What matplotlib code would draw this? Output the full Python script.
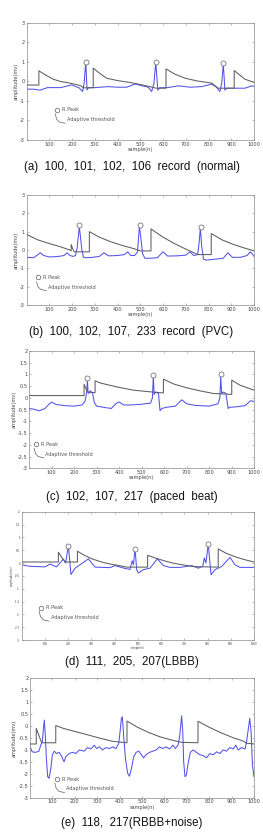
import matplotlib
matplotlib.use("Agg")
import matplotlib.pyplot as plt

# ---------------- data ----------------
# (a) normal
a_thr_x = [0, 54, 54, 80, 117, 150, 191, 235, 250, 293, 293, 320, 352, 400, 455, 491, 530, 570, 613, 613, 650, 697, 750, 814, 842, 913, 913, 960, 997, 1000]
a_thr_y = [-0.19, -0.19, 0.54, 0.35, 0.11, -0.01, -0.09, -0.21, -0.33, -0.33, 0.68, 0.42, 0.16, 0.04, -0.06, -0.14, -0.24, -0.35, -0.35, 0.64, 0.38, 0.16, 0.02, -0.09, -0.35, -0.35, 0.55, 0.11, -0.04, -0.05]
a_sig_x = [0, 30, 59, 92, 150, 198, 232, 246, 253, 260, 266, 272, 300, 359, 400, 440, 477, 500, 535, 550, 560, 568, 577, 585, 620, 667, 720, 770, 814, 835, 850, 858, 865, 872, 880, 920, 960, 990, 1000]
a_sig_y = [-0.4, -0.4, -0.45, -0.32, -0.32, -0.18, -0.34, -0.52, -0.1, 0.98, -0.44, -0.32, -0.32, -0.27, -0.3, -0.3, -0.14, -0.2, -0.3, -0.52, -0.1, 0.98, -0.45, -0.33, -0.32, -0.23, -0.3, -0.27, -0.14, -0.3, -0.52, -0.1, 0.9, -0.45, -0.35, -0.35, -0.35, -0.23, -0.25]
a_pk_x = [260, 568, 865]
a_pk_y = [1.0, 1.0, 0.92]

# (b) PVC
b_thr_x = [0, 50, 100, 150, 190, 196, 196, 203, 210, 276, 276, 320, 370, 420, 470, 500, 547, 547, 600, 650, 700, 753, 812, 812, 860, 910, 960, 1000]
b_thr_y = [0.85, 0.55, 0.35, 0.17, 0.0, -0.05, 0.3, 0.05, -0.1, -0.1, 1.0, 0.7, 0.45, 0.25, 0.08, -0.05, -0.05, 1.15, 0.7, 0.35, 0.05, -0.25, -0.25, 0.9, 0.55, 0.3, 0.1, -0.05]
b_sig_x = [0, 30, 45, 60, 75, 100, 140, 165, 178, 190, 205, 215, 222, 228, 232, 237, 243, 250, 262, 290, 320, 340, 360, 400, 430, 445, 458, 475, 488, 496, 503, 510, 520, 545, 575, 600, 620, 660, 700, 718, 735, 752, 758, 764, 770, 778, 790, 830, 865, 885, 905, 940, 970, 983, 995, 1000]
b_sig_y = [-0.4, -0.42, -0.3, -0.15, -0.3, -0.38, -0.35, -0.3, -0.15, -0.3, -0.35, -0.3, 0.1, 0.8, 1.25, 0.7, 0.0, -0.4, -0.42, -0.4, -0.35, -0.15, -0.32, -0.3, -0.25, -0.1, -0.3, -0.3, -0.1, 1.3, 0.6, -0.2, -0.45, -0.45, -0.42, -0.1, -0.33, -0.32, -0.28, -0.1, -0.3, -0.25, 0.3, 1.2, 0.2, -0.5, -0.55, -0.5, -0.45, -0.15, -0.4, -0.4, -0.3, -0.1, -0.25, -0.35]
b_pk_x = [232, 498, 765]
b_pk_y = [1.35, 1.35, 1.25]

# (c) paced beat
c_thr_x = [0, 244, 244, 252, 262, 293, 293, 315, 389, 464, 538, 597, 597, 641, 701, 760, 819, 901, 901, 938, 1000]
c_thr_y = [0.1, 0.1, 0.58, 0.4, 0.25, 0.22, 0.73, 0.64, 0.47, 0.33, 0.26, 0.21, 0.8, 0.6, 0.43, 0.3, 0.19, 0.15, 0.76, 0.54, 0.33]
c_sig_x = [0, 20, 45, 70, 90, 100, 120, 160, 200, 235, 248, 255, 259, 262, 266, 272, 282, 290, 300, 330, 365, 385, 400, 420, 450, 500, 540, 548, 552, 556, 562, 575, 582, 590, 610, 650, 679, 700, 740, 800, 840, 848, 852, 856, 862, 875, 885, 892, 920, 960, 985, 1000]
c_sig_y = [-0.45, -0.48, -0.55, -0.45, -0.25, -0.18, -0.28, -0.33, -0.35, -0.3, -0.15, 0.2, 0.75, 0.2, 0.2, 0.3, 0.2, -0.2, -0.35, -0.4, -0.45, -0.25, -0.17, -0.3, -0.3, -0.27, -0.22, 0.0, 0.9, 0.15, 0.25, 0.2, -0.55, -0.45, -0.4, -0.35, -0.08, -0.25, -0.32, -0.35, -0.25, 0.0, 0.9, 0.2, 0.25, 0.2, -0.45, -0.4, -0.38, -0.33, -0.12, -0.15]
c_pk_x = [259, 552, 852]
c_pk_y = [0.86, 0.97, 1.02]

# (d) LBBB
d_thr_x = [0, 158, 158, 170, 187, 240, 240, 270, 300, 340, 380, 420, 452, 542, 542, 580, 620, 660, 700, 739, 846, 846, 880, 920, 960, 1000]
d_thr_y = [0.04, 0.04, 0.42, 0.25, 0.04, 0.04, 0.46, 0.3, 0.17, 0.05, -0.04, -0.1, -0.16, -0.16, 0.3, 0.18, 0.07, -0.02, -0.08, -0.14, -0.16, 0.55, 0.38, 0.24, 0.13, 0.04]
d_sig_x = [0, 36, 100, 122, 150, 179, 189, 201, 212, 230, 287, 316, 380, 402, 440, 466, 476, 481, 488, 495, 502, 524, 552, 584, 610, 638, 681, 732, 760, 779, 786, 793, 803, 815, 832, 861, 897, 918, 940, 1000]
d_sig_y = [-0.07, -0.13, -0.15, -0.04, -0.15, 0.15, 0.0, 0.68, -0.45, -0.2, 0.16, -0.16, -0.18, -0.1, -0.2, -0.25, 0.09, -0.07, 0.55, -0.26, -0.39, -0.26, -0.2, 0.16, -0.1, -0.17, -0.17, -0.1, -0.2, -0.13, 0.2, 0.0, 0.74, -0.46, -0.26, -0.13, 0.22, -0.07, -0.17, -0.17]
d_pk_x = [201, 488, 803]
d_pk_y = [0.68, 0.55, 0.74]

# (e) RBBB + noise
e_thr_x = [0, 28, 28, 52, 115, 115, 150, 190, 235, 309, 369, 433, 433, 480, 530, 580, 630, 676, 750, 750, 800, 850, 907, 950, 967, 1000]
e_thr_y = [-0.75, -0.75, -0.1, -0.7, -0.7, 0.02, -0.1, -0.2, -0.31, -0.5, -0.64, -0.7, 0.21, -0.05, -0.27, -0.45, -0.58, -0.68, -0.7, 0.2, -0.05, -0.27, -0.49, -0.62, -0.72, -0.75]
e_sig_x = [0, 10, 25, 40, 48, 55, 60, 64, 69, 73, 79, 85, 93, 100, 108, 118, 130, 142, 152, 160, 175, 190, 205, 220, 242, 257, 272, 287, 297, 309, 324, 339, 354, 369, 384, 396, 402, 408, 412, 418, 426, 436, 444, 453, 463, 474, 486, 496, 507, 519, 534, 549, 563, 578, 593, 608, 623, 638, 649, 661, 668, 673, 677, 682, 686, 692, 698, 707, 716, 728, 743, 758, 773, 788, 803, 818, 833, 848, 862, 877, 892, 907, 919, 929, 945, 960, 967, 975, 981, 987, 993, 1000]
e_sig_y = [-0.87, -1.08, -1.1, -1.05, -0.8, -0.65, -0.1, 0.25, -0.5, -1.35, -2.12, -2.19, -1.77, -1.2, -1.05, -1.15, -1.1, -1.28, -1.5, -1.28, -1.15, -1.1, -1.15, -1.0, -1.05, -0.9, -0.96, -0.8, -0.94, -0.87, -1.0, -0.9, -0.94, -0.87, -0.94, -0.73, -0.24, 0.32, 0.39, -0.38, -1.35, -1.98, -2.1, -1.77, -1.28, -1.1, -1.05, -1.19, -1.33, -1.19, -1.1, -1.05, -1.0, -0.87, -0.94, -0.87, -0.96, -0.8, -0.94, -0.8, -0.45, 0.04, 0.43, -0.24, -1.5, -2.12, -2.05, -1.5, -1.1, -1.0, -1.1, -1.2, -1.24, -1.33, -1.15, -1.2, -1.08, -1.15, -1.0, -1.05, -0.9, -0.96, -0.8, -1.0, -0.9, -0.96, -0.65, -0.1, 0.32, -0.24, -1.63, -2.12]
e_pk_x = []
e_pk_y = []

captions = [
    "(a)  100,  101,  102,  106  record  (normal)",
    "(b)  100,  102,  107,  233  record  (PVC)",
    "(c)  102,  107,  217  (paced  beat)",
    "(d)  111,  205,  207(LBBB)",
    "(e)  118,  217(RBBB+noise)",
]
x_ticks = [100, 200, 300, 400, 500, 600, 700, 800, 900, 1000]
y_ticks_int = [-3, -2, -1, 0, 1, 2, 3]
y_ticks_half = [-3, -2.5, -2, -1.5, -1, -0.5, 0, 0.5, 1, 1.5, 2]
legend_labels = ["R Peak", "Adaptive threshold"]

# ---------------- layout ----------------
W, H = 263, 834
fig = plt.figure(figsize=(W / 100, H / 100), dpi=100)

def rect(l, t, r, b):
    return [l / W, 1 - b / H, (r - l) / W, (b - t) / H]

panels = [
    dict(rect=rect(26.6, 22.7, 254, 140), thr=(a_thr_x, a_thr_y), sig=(a_sig_x, a_sig_y), pk=(a_pk_x, a_pk_y),
         ylim=(-3, 3), yt=y_ticks_int, cap_y=167, leg=(0.134, 0.256, 0.173), fs=3.6),
    dict(rect=rect(26.6, 195, 254, 305), thr=(b_thr_x, b_thr_y), sig=(b_sig_x, b_sig_y), pk=(b_pk_x, b_pk_y),
         ylim=(-3, 3), yt=y_ticks_int, cap_y=332, leg=(0.052, 0.252, 0.161), fs=3.6),
    dict(rect=rect(29.2, 351, 254, 468.3), thr=(c_thr_x, c_thr_y), sig=(c_sig_x, c_sig_y), pk=(c_pk_x, c_pk_y),
         ylim=(-3, 2), yt=y_ticks_half, cap_y=497, leg=(0.03, 0.205, 0.12), fs=3.6),
    dict(rect=rect(21.7, 511.7, 254, 640), thr=(d_thr_x, d_thr_y), sig=(d_sig_x, d_sig_y), pk=(d_pk_x, d_pk_y),
         ylim=(-3, 2), yt=y_ticks_half, cap_y=662, leg=(0.083, 0.252, 0.177), fs=2.0),
    dict(rect=rect(30, 678.3, 254, 797.7), thr=(e_thr_x, e_thr_y), sig=(e_sig_x, e_sig_y), pk=(e_pk_x, e_pk_y),
         ylim=(-3, 2), yt=y_ticks_half, cap_y=823, leg=(0.119, 0.154, 0.073), fs=3.6),
]

BLUE = "#5252ea"
GRAY = "#5e5e5e"
FRAME = "#8a8a8a"
TXT = "#444444"

for i, p in enumerate(panels):
    ax = fig.add_axes(p["rect"])
    ax.plot(p["sig"][0], p["sig"][1], color=BLUE, lw=0.75, zorder=2)
    ax.plot(p["thr"][0], p["thr"][1], color=GRAY, lw=0.75, zorder=3)
    if p["pk"][0]:
        ax.plot(p["pk"][0], p["pk"][1], "o", ms=3.6, mfc="white", mec="#777777", mew=0.6, zorder=4)
    ax.set_xlim(0, 1000)
    ax.set_ylim(*p["ylim"])
    ax.set_xticks(x_ticks)
    ax.set_yticks(p["yt"])
    ax.set_yticklabels([f"{v:g}" for v in p["yt"]])
    ax.tick_params(direction="in", length=1.5, width=0.4, colors=FRAME, labelcolor=TXT,
                   labelsize=p["fs"], pad=1.2, top=True, right=True)
    for s in ax.spines.values():
        s.set_color(FRAME)
        s.set_linewidth(0.5)
    ax.set_xlabel("sample(n)", fontsize=p["fs"], color=TXT, labelpad=0.3)
    ax.set_ylabel("amplitude(mv)", fontsize=p["fs"], color=TXT, labelpad=1.0)
    # legend
    lx, ly1, ly2 = p["leg"]
    ax.plot([lx], [ly1], "o", ms=3.2, mfc="white", mec="#777777", mew=0.6, transform=ax.transAxes, clip_on=False)
    ax.text(lx + 0.022, ly1, legend_labels[0], transform=ax.transAxes, fontsize=3.6, color="#555555",
            va="center", ha="left")
    gx = [lx - 0.008, lx - 0.002, lx + 0.01, lx + 0.035]
    gy = [ly2 + 0.05, ly2 + 0.005, ly2 - 0.02, ly2 - 0.03]
    ax.plot(gx, gy, color=GRAY, lw=0.5, transform=ax.transAxes, clip_on=False)
    ax.text(lx + 0.042, ly2, legend_labels[1], transform=ax.transAxes, fontsize=3.6, color="#555555",
            va="center", ha="left")
    fig.text(131.5 / W, 1 - p["cap_y"] / H, captions[i], ha="center", va="center",
             fontsize=8.3, family="Liberation Sans", color="#111111")

fig.savefig("out.png", dpi=100)
